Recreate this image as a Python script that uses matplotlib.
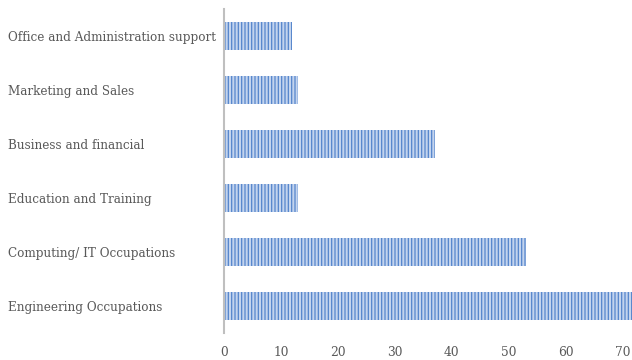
import matplotlib
matplotlib.use("Agg")
import matplotlib.pyplot as plt
from matplotlib.transforms import blended_transform_factory

categories = [
    "Engineering Occupations",
    "Computing/ IT Occupations",
    "Education and Training",
    "Business and financial",
    "Marketing and Sales",
    "Office and Administration support",
]
values = [72, 53, 13, 37, 13, 12]
x_ticks = [0, 10, 20, 30, 40, 50, 60, 70]

plt.rcParams["font.family"] = ["DejaVu Serif"]
plt.rcParams["hatch.linewidth"] = 0.9

fig = plt.figure(figsize=(6.32, 3.60), dpi=100)
ax = fig.add_axes([224 / 632, 27 / 360, 1 - 224 / 632, 324 / 360])

ax.barh(range(len(categories)), values, height=0.52,
        color="#c3d4ee", edgecolor="#5585cc", linewidth=0, hatch="|||||")

ax.set_ylim(-0.5, len(categories) - 0.5)
ax.set_xlim(0, 71.6)
ax.set_yticks(range(len(categories)))
ax.set_yticklabels([])
ax.set_xticks(x_ticks)

# category labels, left-aligned at the figure edge
trans = blended_transform_factory(fig.transFigure, ax.transData)
for i, name in enumerate(categories):
    fig.text(8 / 632, i - 0.02, name, transform=trans, ha="left", va="center",
             color="#595959", fontsize=8.65)

for s in ["top", "right", "bottom"]:
    ax.spines[s].set_visible(False)
ax.spines["left"].set_color("#bfbfbf")
ax.spines["left"].set_linewidth(1.5)

ax.tick_params(axis="both", length=0, colors="#595959", labelsize=8.8)
ax.tick_params(axis="x", pad=9)

fig.savefig("out.png", dpi=100)
